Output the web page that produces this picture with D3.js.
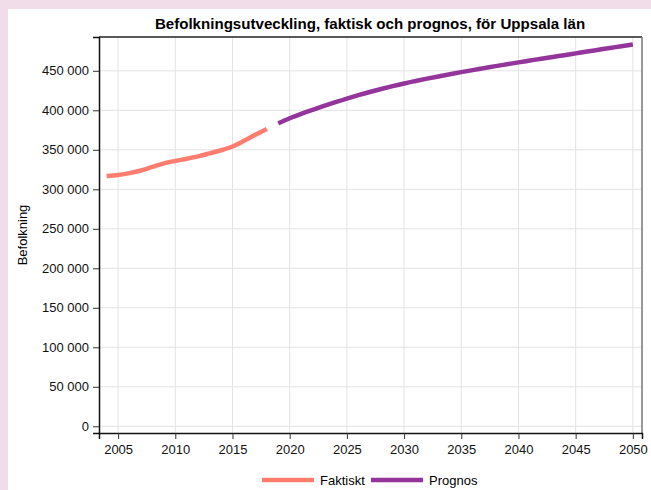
<!DOCTYPE html>
<html>
<head>
<meta charset="utf-8">
<script src="https://cdn.jsdelivr.net/npm/d3@7"></script>
<style>
  body { margin: 0; background: #f0dde9; }
  svg { display: block; }
</style>
</head>
<body>
<div id="plot"></div>
<script>
// faktiskt befolkning 2004-2018
let factYears = [2004,2005,2006,2007,2008,2009,2010,2011,2012,2013,2014,2015,2016,2017,2018];
let factValues = [316800,318200,320500,323800,328300,332800,335900,338600,341700,345500,349400,354200,361400,369000,376400];

// prognos 2019-2050
let progYears = d3.range(2019, 2051);
let progValues = [383500,390000,395500,400600,405500,410300,414900,419200,423200,427000,430600,434000,437100,440100,442900,445600,448300,450900,453400,455900,458300,460700,463000,465300,467600,469800,472100,474400,476600,478900,481100,483400];

let xTicks = [2005,2010,2015,2020,2025,2030,2035,2040,2045,2050];
let yTicks = [0,50000,100000,150000,200000,250000,300000,350000,400000,450000];

let seriesNames = ['Faktiskt', 'Prognos'];
let seriesColors = ['#ff7d6e', '#93359b'];

let width = 651, height = 490;
let mLeft = 99, mRight = 642, mTop = 37, mBottom = 433;

let svg = d3.select('#plot').append('svg').attr('width', width).attr('height', height);

svg.append('rect').attr('x', 8).attr('y', 9).attr('width', width - 8).attr('height', height - 9).attr('fill', '#fff');

let x = d3.scaleLinear().domain([2003.33, 2050.8]).range([mLeft, mRight]);
let y = d3.scaleLinear().domain([-8500, 492800]).range([mBottom, mTop]);

let fmt = d => d3.format(',')(d).replace(/,/g, ' ');

// grid
svg.append('g').selectAll('line').data(yTicks).enter().append('line')
  .attr('x1', mLeft).attr('x2', mRight)
  .attr('y1', d => y(d)).attr('y2', d => y(d))
  .attr('stroke', '#e3e3e3').attr('stroke-width', 1);
svg.append('g').selectAll('line').data(xTicks).enter().append('line')
  .attr('y1', mTop).attr('y2', mBottom)
  .attr('x1', d => x(d)).attr('x2', d => x(d))
  .attr('stroke', '#e3e3e3').attr('stroke-width', 1);

// frame
svg.append('line').attr('x1', mLeft).attr('x2', mRight).attr('y1', mTop).attr('y2', mTop).attr('stroke', '#222').attr('stroke-width', 1.3);
svg.append('line').attr('x1', mRight).attr('x2', mRight).attr('y1', mTop).attr('y2', mBottom).attr('stroke', '#777').attr('stroke-width', 1.5);

// axes
let yAxis = svg.append('g').attr('transform', 'translate(' + mLeft + ',0)')
  .call(d3.axisLeft(y).tickValues(yTicks).tickFormat(fmt).tickSize(6).tickPadding(4));
let xAxis = svg.append('g').attr('transform', 'translate(0,' + mBottom + ')')
  .call(d3.axisBottom(x).tickValues(xTicks).tickFormat(d => d).tickSize(6).tickPadding(6));

[yAxis, xAxis].forEach(a => {
  a.select('.domain').attr('stroke', '#111').attr('stroke-width', 1.5);
  a.selectAll('.tick line').attr('stroke', '#333');
  a.selectAll('.tick text').attr('fill', '#111').style('font-family', 'Liberation Sans, Arial, sans-serif').style('font-size', '13px');
});

// lines
let line = d3.line().x(d => x(d[0])).y(d => y(d[1])).curve(d3.curveMonotoneX);
let factData = factYears.map((d, i) => [d, factValues[i]]);
let progData = progYears.map((d, i) => [d, progValues[i]]);

svg.append('path').datum(factData).attr('d', line)
  .attr('fill', 'none').attr('stroke', seriesColors[0]).attr('stroke-width', 4.5);
svg.append('path').datum(progData).attr('d', line)
  .attr('fill', 'none').attr('stroke', seriesColors[1]).attr('stroke-width', 4.5);

// title
svg.append('text').attr('x', 370).attr('y', 29)
  .attr('text-anchor', 'middle')
  .style('font-family', 'Liberation Sans, Arial, sans-serif').style('font-size', '15.1px').style('font-weight', 'bold')
  .text('Befolkningsutveckling, faktisk och prognos, för Uppsala län');

// y label
svg.append('text').attr('transform', 'translate(27,' + ((mTop + mBottom) / 2) + ') rotate(-90)')
  .attr('text-anchor', 'middle')
  .style('font-family', 'Liberation Sans, Arial, sans-serif').style('font-size', '13px')
  .text('Befolkning');

// legend
let legX = [262, 371];
let leg = svg.append('g').selectAll('g').data(seriesNames).enter().append('g')
  .attr('transform', (d, i) => 'translate(' + legX[i] + ',480)');
leg.append('line').attr('x1', 0).attr('x2', 52).attr('y1', 0).attr('y2', 0)
  .attr('stroke', (d, i) => seriesColors[i]).attr('stroke-width', 4.5);
leg.append('text').attr('x', 58).attr('y', 4.5)
  .style('font-family', 'Liberation Sans, Arial, sans-serif').style('font-size', '13px')
  .text(d => d);
</script>
</body>
</html>
